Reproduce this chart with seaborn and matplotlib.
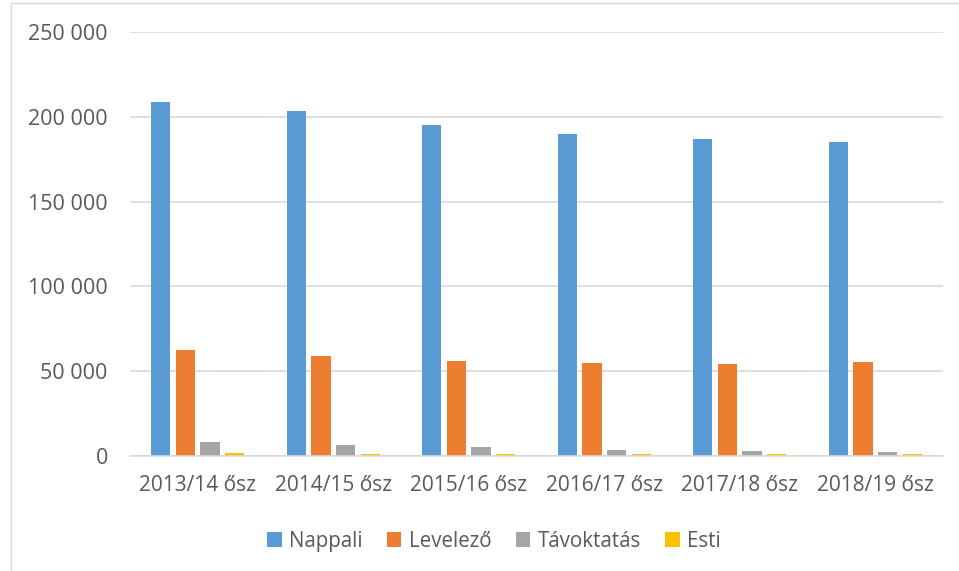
import pandas as pd
import matplotlib.pyplot as plt
import matplotlib.lines as mlines
import seaborn as sns

# Data
years = ['2013/14 ősz', '2014/15 ősz', '2015/16 ősz', '2016/17 ősz', '2017/18 ősz', '2018/19 ősz']
forms = ['Nappali', 'Levelező', 'Távoktatás', 'Esti']
nappali = [208900, 203200, 195000, 189700, 186700, 185000]
levelezo = [62500, 58800, 56200, 54800, 54200, 55400]
tavoktatas = [8100, 6700, 5300, 3500, 3100, 2500]
esti = [1600, 1300, 1200, 1100, 1000, 1000]
colors = ['#5B9BD5', '#ED7D31', '#A5A5A5', '#FFC000']

df = pd.DataFrame({'Év': years, 'Nappali': nappali, 'Levelező': levelezo,
                   'Távoktatás': tavoktatas, 'Esti': esti})
long = df.melt(id_vars='Év', var_name='Forma', value_name='Létszám')

sns.set_style('white')
plt.rcParams['font.family'] = ['Open Sans', 'DejaVu Sans']

fig = plt.figure(figsize=(9.59, 5.71), dpi=100)
ax = fig.add_axes([130 / 959, 1 - 456 / 571, 813 / 959, 424 / 571])

sns.barplot(data=long, x='Év', y='Létszám', hue='Forma', hue_order=forms,
            palette=colors, width=0.726, gap=0.22, linewidth=0,
            saturation=1, ax=ax)

ax.set_ylim(0, 250000)
ax.set_xlim(-0.5, 5.5)
ticks = [0, 50000, 100000, 150000, 200000, 250000]
ax.set_yticks(ticks)
ax.set_yticklabels([f'{t:,}'.replace(',', ' ') for t in ticks])
ax.yaxis.grid(True, color='#D9D9D9', linewidth=1.2)
ax.set_axisbelow(True)
for s in ['top', 'right', 'left']:
    ax.spines[s].set_visible(False)
ax.spines['bottom'].set_color('#D9D9D9')
ax.spines['bottom'].set_linewidth(1.2)
ax.tick_params(axis='y', length=0, pad=16, labelsize=15.5, labelcolor='#595959')
ax.tick_params(axis='x', length=0, pad=14, labelsize=15, labelcolor='#595959')
ax.set_xlabel('')
ax.set_ylabel('')

# legend sits centred on the (wider) chart area, not on the plot area
leg = ax.legend(loc='center', bbox_to_anchor=((494 - 130) / 813, 1 - (541 - 32) / 424 - 1e-9),
                ncol=4, frameon=False, fontsize=14.8, handlelength=0.7,
                handleheight=0.7, handletextpad=0.35, columnspacing=1.2)
for t in leg.get_texts():
    t.set_color('#595959')

# chart area border (partly cut off in the original)
fig.add_artist(mlines.Line2D([11 / 959, 11 / 959], [0, 1 - 3 / 571],
                             transform=fig.transFigure, color='#D9D9D9', lw=1))
fig.add_artist(mlines.Line2D([11 / 959, 1], [1 - 3 / 571, 1 - 3 / 571],
                             transform=fig.transFigure, color='#D9D9D9', lw=1))

fig.savefig('out.png', dpi=100)
